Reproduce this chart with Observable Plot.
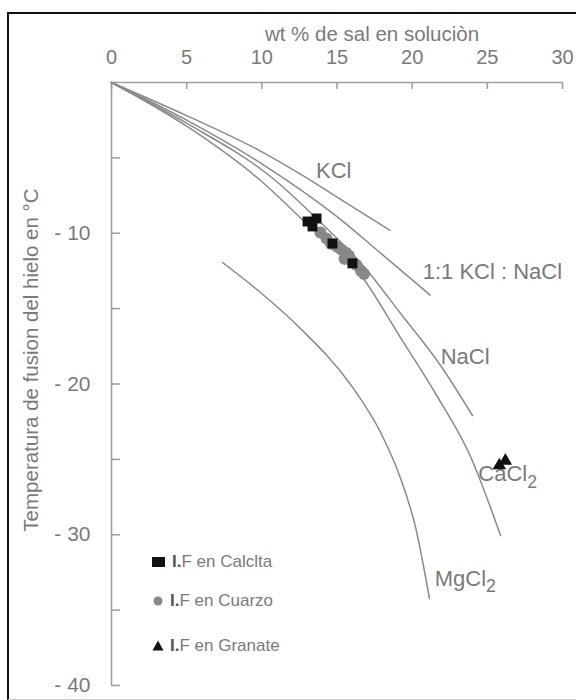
<!DOCTYPE html>
<html><head><meta charset="utf-8">
<script src="https://cdn.jsdelivr.net/npm/d3@7"></script>
<script src="https://cdn.jsdelivr.net/npm/@observablehq/plot@0.6"></script>
<style>
body{margin:0;background:#fff;font-family:"Liberation Sans",Arial,sans-serif;}
#wrap{position:relative;width:576px;height:700px;overflow:hidden;background:#fff;}
#chart{position:absolute;left:0;top:0;}
#frame{position:absolute;left:7px;top:12px;width:620px;height:685px;border-left:2px solid #111;border-top:2px solid #111;border-bottom:1px solid #ccc;z-index:3;pointer-events:none;}
.lg{position:absolute;color:#7a7a7a;font-size:17px;line-height:20px;height:20px;white-space:nowrap;z-index:2;}
.lg b{color:#555;}
</style></head><body>
<div id="wrap"><div id="chart"></div><div id="frame"></div>
<div class="lg" style="left:152px;top:552px;"><svg width="14" height="20"><rect x="0" y="5" width="13" height="10" fill="#111"/></svg></div>
<div class="lg" style="left:172px;top:552px;"><b>I.</b>F en Calclta</div>
<div class="lg" style="left:152px;top:591px;"><svg width="14" height="20"><circle cx="6" cy="10" r="4.5" fill="#888"/></svg></div>
<div class="lg" style="left:170px;top:591px;"><b>I.</b>F en Cuarzo</div>
<div class="lg" style="left:152px;top:636px;"><svg width="14" height="20"><path d="M6,4.5L11.5,14.5L0.5,14.5Z" fill="#111"/></svg></div>
<div class="lg" style="left:170px;top:636px;"><b>I.</b>F en Granate</div>
</div>
<script>
// axis ticks
const xTicks = [0, 5, 10, 15, 20, 25, 30];
const yTicks = [-5, -10, -15, -20, -25, -30, -35, -40];
const yLabelTicks = [-10, -20, -30, -40];
const xTitle = "wt % de sal en soluciòn";
const yTitle = "Temperatura de fusion del hielo en °C";

// melting curves (wt %, °C)
const kclWt  = [0, 5, 10, 12.6, 15, 18.5];
const kclT   = [0, -2.2, -4.6, -6.1, -7.6, -9.8];
const mixWt  = [0, 5, 10, 15, 18, 21.2];
const mixT   = [0, -2.5, -5.4, -8.9, -11.4, -14.1];
const naclWt = [0, 5, 10.9, 13.64, 16.9, 19.22, 21.89, 24.01];
const naclT  = [0, -2.7, -6.5, -9.02, -12.34, -15.31, -18.77, -22.09];
const cacl2Wt = [0, 5, 9.91, 12.9, 16.7, 19.22, 21.55, 23.88, 25.88];
const cacl2T  = [0, -2.9, -6.5, -9.29, -12.94, -16.92, -20.63, -24.81, -30.05];
const mgcl2Wt = [7.39, 9.91, 12.57, 15.90, 17.90, 19.23, 20.23, 21.15];
const mgcl2T  = [-11.94, -13.93, -16.32, -20.03, -23.22, -26.27, -29.52, -34.23];

// curve labels
const labelNames = ["KCl", "1:1 KCl : NaCl", "NaCl", "CaCl₂", "MgCl₂"];
const labelWt = [13.6, 20.7, 21.9, 24.4, 21.5];
const labelT  = [-5.9, -12.6, -18.2, -26.0, -32.9];

// fluid inclusions
const calcitaWt = [13.04, 13.64, 13.37, 14.70, 16.03];
const calcitaT  = [-9.22, -9.02, -9.55, -10.68, -12.0];
const cuarzoWt = [13.9, 14.3, 14.6, 15.0, 15.3, 15.6, 15.8, 15.5, 16.0, 16.3, 16.6, 16.8];
const cuarzoT  = [-9.95, -10.35, -10.7, -10.9, -11.1, -11.3, -11.5, -11.7, -11.9, -12.1, -12.5, -12.7];
const granateWt = [25.8, 26.2];
const granateT  = [-25.4, -25.1];

const curves = [
  ["KCl", kclWt, kclT], ["mix", mixWt, mixT], ["NaCl", naclWt, naclT],
  ["CaCl2", cacl2Wt, cacl2T], ["MgCl2", mgcl2Wt, mgcl2T]
].flatMap(([s, w, t]) => w.map((v, i) => ({salt: s, wt: v, t: t[i]})));
const pts = (w, t) => w.map((v, i) => ({wt: v, t: t[i]}));
const labels = labelNames.map((n, i) => ({name: n, wt: labelWt[i], t: labelT[i]}));

const grey = "#8a8a8a", txt = "#7a7a7a", axisC = "#a0a0a0";
const chart = Plot.plot({
  width: 576, height: 700,
  marginTop: 82, marginLeft: 111, marginRight: 14, marginBottom: 15,
  style: {background: "transparent", fontFamily: "Liberation Sans, Arial, sans-serif"},
  x: {domain: [0, 30], axis: null},
  y: {domain: [-40, 0], axis: null},
  marks: [
    Plot.ruleY([0], {stroke: axisC, strokeWidth: 1.6}),
    Plot.ruleX([0], {stroke: axisC, strokeWidth: 1.6}),
    Plot.tickX(xTicks, {x: d => d, insetBottom: 596, stroke: axisC, strokeWidth: 1.6}),
    Plot.tickY(yTicks, {y: d => d, insetRight: 442, stroke: axisC, strokeWidth: 1.6}),
    Plot.text(xTicks, {x: d => d, frameAnchor: "top", lineAnchor: "middle", dy: -25, text: d => String(d), fontSize: 20, fill: txt}),
    Plot.text(yLabelTicks, {y: d => d, frameAnchor: "left", lineAnchor: "middle", dx: -21, textAnchor: "end", text: d => "- " + (-d), fontSize: 21, fill: txt}),
    Plot.text([xTitle], {frameAnchor: "top", lineAnchor: "middle", textAnchor: "middle", dx: 35, dy: -48, text: d => d, fontSize: 20.5, fill: txt}),
    Plot.text([yTitle], {frameAnchor: "left", lineAnchor: "middle", textAnchor: "middle", dx: -80, dy: -24, rotate: -90, text: d => d, fontSize: 20.5, fill: txt}),
    Plot.line(curves, {x: "wt", y: "t", z: "salt", stroke: grey, strokeWidth: 1.5, curve: "monotone-x"}),
    Plot.text(labels, {x: "wt", y: "t", text: "name", textAnchor: "start", fontSize: 22, fill: txt}),
    Plot.dot(pts(cuarzoWt, cuarzoT), {x: "wt", y: "t", r: 6, fill: "#888", symbol: "circle"}),
    Plot.dot(pts(calcitaWt, calcitaT), {x: "wt", y: "t", r: 5.6, fill: "#111", symbol: "square"}),
    Plot.dot(pts(granateWt, granateT), {x: "wt", y: "t", r: 5, fill: "#111", symbol: "triangle"})
  ]
});
// subscripts
chart.querySelectorAll("text").forEach(t => {
  if (t.textContent.includes("₂")) {
    const base = t.textContent.replace("₂", "");
    t.textContent = base;
    const ts = document.createElementNS("http://www.w3.org/2000/svg", "tspan");
    ts.setAttribute("dy", "0.35em");
    ts.setAttribute("font-size", "0.8em");
    ts.textContent = "2";
    t.appendChild(ts);
  }
});
document.getElementById("chart").appendChild(chart);
</script>
</body></html>
